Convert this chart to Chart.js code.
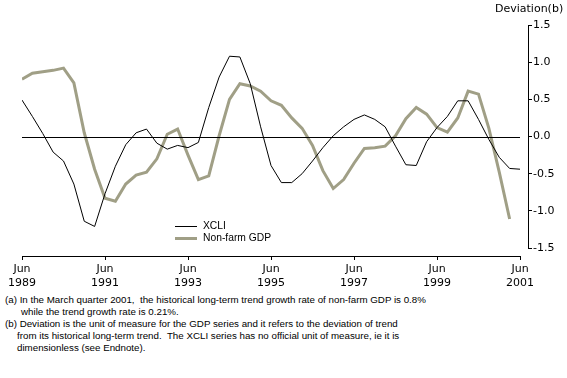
<!DOCTYPE html>
<html>
<head>
<meta charset="utf-8">
<script src="https://cdn.jsdelivr.net/npm/chart.js@4.4.1/dist/chart.umd.min.js"></script>
<style>
  body { margin: 0; background: #fff; }
  #wrap { position: relative; width: 567px; height: 378px; font-family: "Liberation Sans", Arial, sans-serif; }
  #chart { position: absolute; left: 0; top: 0; }
  .unit { position: absolute; left: 495px; top: 2px; font: 11px "DejaVu Sans", sans-serif; color: #000; }
  .leg { position: absolute; font-size: 10.3px; color: #000; }
  .leg span { display: inline-block; width: 22px; vertical-align: middle; margin-right: 6px; }
  .note { position: absolute; font-size: 9.75px; color: #000; white-space: nowrap; }
</style>
</head>
<body>
<div id="wrap">
  <canvas id="chart" width="567" height="290"></canvas>
  <div class="unit">Deviation(b)</div>
  <div class="leg" style="left:175px; top:220px;"><span style="border-top:1px solid #000;"></span>XCLI</div>
  <div class="leg" style="left:175px; top:232px;"><span style="border-top:3px solid #a09f86;"></span>Non-farm GDP</div>
  <div class="note" style="left:5px; top:294px;">(a) In the March quarter 2001,&nbsp; the historical long-term trend growth rate of non-farm GDP is 0.8%</div>
  <div class="note" style="left:21px; top:306px;">while the trend growth rate is 0.21%.</div>
  <div class="note" style="left:5px; top:318px;">(b) Deviation is the unit of measure for the GDP series and it refers to the deviation of trend</div>
  <div class="note" style="left:17px; top:330px;">from its historical long-term trend.&nbsp; The XCLI series has no official unit of measure, ie it is</div>
  <div class="note" style="left:17px; top:342px;">dimensionless (see Endnote).</div>
</div>
<script>
// Quarterly deviation from trend, Jun 1989 to Jun 2001
const tickYears = ['1989', '1991', '1993', '1995', '1997', '1999', '2001'];

const xcli = [
  0.49, 0.27, 0.04, -0.21, -0.33, -0.64, -1.14, -1.21,
  -0.77, -0.40, -0.11, 0.05, 0.10, -0.09, -0.17, -0.12,
  -0.15, -0.08, 0.39, 0.80, 1.08, 1.07, 0.71, 0.13,
  -0.39, -0.62, -0.62, -0.50, -0.33, -0.15, 0.01, 0.13,
  0.23, 0.29, 0.23, 0.13, -0.13, -0.38, -0.39, -0.07,
  0.12, 0.27, 0.48, 0.48, 0.23, -0.04, -0.28, -0.43,
  -0.44
];

const nonFarmGdp = [
  0.77, 0.85, 0.87, 0.89, 0.92, 0.72, 0.05, -0.44,
  -0.83, -0.87, -0.64, -0.52, -0.48, -0.30, 0.03, 0.10,
  -0.25, -0.58, -0.53, 0.01, 0.50, 0.71, 0.68, 0.61,
  0.48, 0.42, 0.25, 0.11, -0.12, -0.46, -0.70, -0.58,
  -0.36, -0.16, -0.15, -0.13, 0.01, 0.24, 0.39, 0.30,
  0.12, 0.06, 0.25, 0.61, 0.57, 0.11, -0.48, -1.11
];

const yTicks = [-1.5, -1.0, -0.5, 0.0, 0.5, 1.0, 1.5];

// x is quarters since Jun 1989
function toPoints(values) {
  return values.map((v, i) => ({ x: i, y: v }));
}

// zero line and the two axis lines, which stop short of the plot edges
const axisLines = {
  id: 'axisLines',
  afterDraw(chart) {
    const { ctx, chartArea } = chart;
    const xs = chart.scales.x, ys = chart.scales.y;
    const x0 = xs.getPixelForValue(0), x1 = xs.getPixelForValue(48);
    ctx.save();
    ctx.strokeStyle = '#000';
    ctx.lineWidth = 1;
    ctx.beginPath();
    const yz = Math.round(ys.getPixelForValue(0)) + 0.5;
    ctx.moveTo(x0, yz); ctx.lineTo(x1, yz);
    const yb = Math.round(chartArea.bottom) + 0.5;
    ctx.moveTo(x0, yb); ctx.lineTo(x1 + 0.5, yb);
    const xr = Math.round(chartArea.right) + 0.5;
    ctx.moveTo(xr, ys.getPixelForValue(1.5)); ctx.lineTo(xr, ys.getPixelForValue(-1.5) + 0.5);
    ctx.stroke();
    ctx.restore();
  }
};

new Chart(document.getElementById('chart'), {
  type: 'line',
  data: {
    datasets: [
      { label: 'XCLI', data: toPoints(xcli), borderColor: '#000', borderWidth: 1, pointRadius: 0, tension: 0 },
      { label: 'Non-farm GDP', data: toPoints(nonFarmGdp), borderColor: '#a09f86', borderWidth: 3, pointRadius: 0, tension: 0 }
    ]
  },
  options: {
    responsive: false,
    animation: false,
    layout: { padding: { left: 22, right: 0, top: 25, bottom: 0 } },
    plugins: { legend: { display: false }, tooltip: { enabled: false } },
    scales: {
      x: {
        type: 'linear',
        min: 0,
        max: 48.77,
        afterBuildTicks: s => { s.ticks = tickYears.map((y, i) => ({ value: i * 8 })); },
        afterFit: s => { s.height = 34; },
        ticks: {
          callback: (v, i) => ['Jun', tickYears[i]],
          font: { family: 'DejaVu Sans', size: 11 },
          color: '#000',
          padding: 3,
          maxRotation: 0
        },
        grid: { drawOnChartArea: false, tickLength: 4, color: '#000' },
        border: { display: false }
      },
      y: {
        position: 'right',
        min: -1.6076,
        max: 1.5,
        afterBuildTicks: s => { s.ticks = yTicks.map(v => ({ value: v })); },
        afterFit: s => { s.width = 39; },
        ticks: {
          callback: v => v.toFixed(1),
          font: { family: 'DejaVu Sans', size: 11 },
          color: '#000',
          padding: 1
        },
        grid: { drawOnChartArea: false, tickLength: 4, color: '#000' },
        border: { display: false }
      }
    }
  },
  plugins: [axisLines]
});
</script>
</body>
</html>
